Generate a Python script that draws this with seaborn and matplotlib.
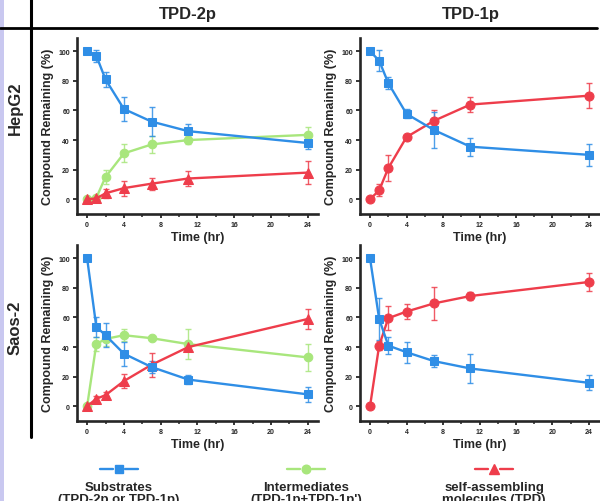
import matplotlib
matplotlib.use('Agg')
import matplotlib.pyplot as plt
import seaborn as sns
import pandas as pd
from matplotlib.lines import Line2D
from matplotlib.patches import Rectangle
from matplotlib.ticker import MultipleLocator

# ---------------- data ----------------
time_hr = [0, 1, 2, 4, 7, 11, 24]

# HepG2, TPD-2p
hep2p_sub = [100, 97, 81, 61, 52.5, 46, 38]
hep2p_sub_err = [0, 4, 5, 8, 10, 5, 4]
hep2p_int = [0, 1, 15, 31, 37, 40, 43.5]
hep2p_int_err = [0, 2, 5, 6, 6, 3, 5]
hep2p_tpd = [0, 0.5, 4, 7.5, 10.5, 14, 18]
hep2p_tpd_err = [0, 2, 3, 5, 4, 5, 8]
# HepG2, TPD-1p
hep1p_sub = [100, 93.7, 78.5, 57.7, 46.8, 35.5, 30]
hep1p_sub_err = [0, 7, 4, 3, 12, 6, 7.5]
hep1p_tpd = [0, 6, 21, 42, 53, 64, 70]
hep1p_tpd_err = [0, 4, 9, 1, 7, 5, 8.5]
# Saos-2, TPD-2p
saos2p_sub = [100, 53.6, 48, 35.5, 26.5, 18, 8]
saos2p_sub_err = [0, 7, 8, 8, 4, 3, 5]
saos2p_int = [0, 42, 45.5, 48, 46, 42, 33]
saos2p_int_err = [0, 5, 5, 4, 1, 10, 9]
saos2p_tpd = [0, 5, 7.5, 17, 28, 40, 59]
saos2p_tpd_err = [0, 2, 2, 5, 8, 3, 7]
# Saos-2, TPD-1p
saos1p_sub = [100, 59, 41, 36.5, 30.5, 25.5, 15.8]
saos1p_sub_err = [0, 14, 6, 7, 4, 10, 5]
saos1p_tpd = [0, 41, 59.5, 64, 69.5, 74.5, 84]
saos1p_tpd_err = [0, 3, 8, 5, 11, 3, 6]

col_titles = ["TPD-2p", "TPD-1p"]
row_titles = ["HepG2", "Saos-2"]
legend_labels = ["Substrates\n(TPD-2p or TPD-1p)",
                 "Intermediates\n(TPD-1p+TPD-1p')",
                 "self-assembling\nmolecules (TPD)"]
x_ticks = [0, 4, 8, 12, 16, 20, 24]
y_ticks = [0, 20, 40, 60, 80, 100]

BLUE = "#2f8ee6"
GREEN = "#a8e67c"
RED = "#ee3d4b"

# ---------------- style ----------------
sns.set_style("ticks")
plt.rcParams['font.family'] = ['Liberation Sans', 'DejaVu Sans']
plt.rcParams['font.weight'] = 'bold'
plt.rcParams['axes.labelweight'] = 'bold'

W, H = 600, 502
fig = plt.figure(figsize=(W / 100, H / 100), dpi=100)


def px_axes(left, top, width, height):
    return fig.add_axes([left / W, 1 - (top + height) / H, width / W, height / H])


def panel(ax, series):
    for vals, errs, color, marker, ms in series:
        df = pd.DataFrame({'t': time_hr, 'v': vals})
        ax.errorbar(time_hr, vals, yerr=errs, fmt='none', ecolor=color,
                    elinewidth=1.0, capsize=2.2, capthick=1.0, alpha=0.85, zorder=2)
        sns.lineplot(data=df, x='t', y='v', ax=ax, color=color, marker=marker,
                     markersize=ms, markeredgecolor=color, linewidth=1.7, zorder=3)
    ax.set_xlim(-1.1, 25.1)
    ax.set_ylim(-10, 109)
    ax.set_xticks(x_ticks)
    ax.set_yticks(y_ticks)
    ax.xaxis.set_minor_locator(MultipleLocator(2))
    ax.tick_params(which='major', direction='out', length=3, width=1.3,
                   labelsize=5, pad=2)
    ax.tick_params(which='minor', direction='out', length=2, width=1.1)
    for s in ['left', 'bottom']:
        ax.spines[s].set_linewidth(1.9)
    sns.despine(ax=ax)
    ax.set_xlabel("Time (hr)", fontsize=9, labelpad=2)
    ax.set_ylabel("Compound Remaining (%)", fontsize=9, labelpad=3)


ax_tl = px_axes(77, 39, 241, 176)
ax_tr = px_axes(360, 39, 239, 176)
ax_bl = px_axes(77, 246, 241, 176)
ax_br = px_axes(360, 246, 239, 176)

panel(ax_tl, [(hep2p_int, hep2p_int_err, GREEN, 'o', 6.2),
              (hep2p_tpd, hep2p_tpd_err, RED, '^', 6.5),
              (hep2p_sub, hep2p_sub_err, BLUE, 's', 6)])
panel(ax_tr, [(hep1p_tpd, hep1p_tpd_err, RED, 'o', 6.5),
              (hep1p_sub, hep1p_sub_err, BLUE, 's', 6)])
panel(ax_bl, [(saos2p_int, saos2p_int_err, GREEN, 'o', 6.2),
              (saos2p_tpd, saos2p_tpd_err, RED, '^', 6.5),
              (saos2p_sub, saos2p_sub_err, BLUE, 's', 6)])
panel(ax_br, [(saos1p_tpd, saos1p_tpd_err, RED, 'o', 6.5),
              (saos1p_sub, saos1p_sub_err, BLUE, 's', 6)])

# ---------------- frame, headers ----------------
fig.add_artist(Rectangle((0, 0), 4 / W, 1, transform=fig.transFigure,
                         facecolor="#c9c8f0", edgecolor='none'))
fig.add_artist(Line2D([0, 597 / W], [1 - 29 / H, 1 - 29 / H],
                      transform=fig.transFigure, color='black', linewidth=2))
fig.add_artist(Line2D([31 / W, 31 / W], [1, 1 - 438 / H],
                      transform=fig.transFigure, color='black', linewidth=2.2))

fig.text(188 / W, 1 - 14 / H, col_titles[0], ha='center', va='center',
         fontsize=12, fontweight='bold')
fig.text(471 / W, 1 - 14 / H, col_titles[1], ha='center', va='center',
         fontsize=12, fontweight='bold')
fig.text(15 / W, 1 - 108 / H, row_titles[0], ha='center', va='center',
         rotation=90, fontsize=12, fontweight='bold')
fig.text(15 / W, 1 - 328 / H, row_titles[1], ha='center', va='center',
         rotation=90, fontsize=12, fontweight='bold')

# ---------------- legend ----------------
leg_x = [119, 306, 494]
leg_style = [(BLUE, 's', 6), (GREEN, 'o', 6.2), (RED, '^', 7)]
for cx, lab, (c, m, ms) in zip(leg_x, legend_labels, leg_style):
    yy = 1 - 470 / H
    fig.add_artist(Line2D([(cx - 19) / W, (cx - 6) / W], [yy, yy],
                          transform=fig.transFigure, color=c, linewidth=1.7))
    fig.add_artist(Line2D([(cx + 6) / W, (cx + 19) / W], [yy, yy],
                          transform=fig.transFigure, color=c, linewidth=1.7))
    fig.add_artist(Line2D([cx / W], [yy], transform=fig.transFigure,
                          marker=m, markersize=ms, color=c, linestyle='none'))
    fig.text(cx / W, 1 - 482 / H, lab, ha='center', va='top', fontsize=9.5,
             fontweight='bold', linespacing=1.0)

fig.savefig("out.png", dpi=100)
